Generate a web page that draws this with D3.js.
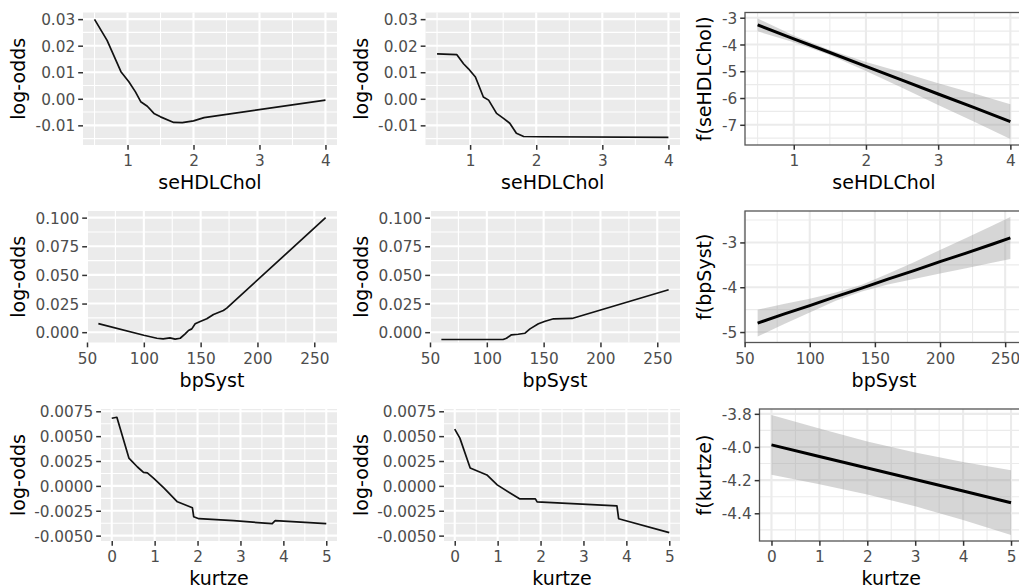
<!DOCTYPE html>
<html>
<head>
<meta charset="utf-8">
<script src="https://cdn.jsdelivr.net/npm/d3@7"></script>
<style>
  html, body { margin: 0; padding: 0; background: #ffffff; }
  svg { display: block; font-family: "DejaVu Sans", sans-serif; }
</style>
</head>
<body>
<svg id="chart" width="1019" height="588"></svg>
<script>
// ---------------- DATA ----------------
// Row 1: seHDLChol
const hdlTicks = [1, 2, 3, 4];
const hdlLogOddsTicks = [-0.01, 0.00, 0.01, 0.02, 0.03];
const hdlLogOddsLim = [-0.0174, 0.0325];
const hdlPdpAx = [0.5, 0.69, 0.9, 1.02, 1.12, 1.2, 1.3, 1.4, 1.5, 1.7, 1.83, 2.0, 2.16, 4.0];
const hdlPdpAy = [0.0299, 0.022, 0.0102, 0.0064, 0.0026, -0.0011, -0.0028, -0.0055, -0.0068, -0.0089, -0.009, -0.0083, -0.0071, -0.0005];
const hdlPdpBx = [0.5, 0.8, 0.9, 0.975, 1.08, 1.13, 1.2, 1.28, 1.4, 1.5, 1.6, 1.7, 1.81, 2.06, 4.0];
const hdlPdpBy = [0.0169, 0.0166, 0.0132, 0.0113, 0.0082, 0.0051, 0.0007, -0.0005, -0.0055, -0.0073, -0.0092, -0.013, -0.0142, -0.0143, -0.0145];
const hdlGamX = [0.5, 1, 1.5, 2, 2.5, 3, 3.5, 4];
const hdlGamFit = [-3.27, -3.79, -4.30, -4.82, -5.33, -5.85, -6.36, -6.88];
const hdlGamLo = [-3.51, -3.92, -4.39, -4.99, -5.62, -6.26, -6.89, -7.53];
const hdlGamHi = [-3.03, -3.66, -4.21, -4.65, -5.04, -5.45, -5.83, -6.23];
const hdlGamTicks = [-7, -6, -5, -4, -3];

// Row 2: bpSyst
const bpTicks = [50, 100, 150, 200, 250];
const bpLogOddsTicks = [0.000, 0.025, 0.050, 0.075, 0.100];
const bpLogOddsLim = [-0.0090, 0.1058];
const bpPdpAx = [60, 100, 111.5, 117, 123, 127.6, 132, 136.4, 139.3, 142.2, 145.2, 149.6, 155.4, 161.3, 170, 173, 260];
const bpPdpAy = [0.0075, -0.0027, -0.0053, -0.0058, -0.005, -0.006, -0.0053, -0.0015, 0.0015, 0.0029, 0.0073, 0.0094, 0.0117, 0.0155, 0.019, 0.021, 0.100];
const bpPdpBx = [60, 114.3, 117.3, 121.7, 127.6, 133.6, 138, 145.4, 151.3, 158.7, 175, 260];
const bpPdpBy = [-0.0064, -0.0064, -0.0053, -0.0023, -0.0018, -0.0009, 0.0029, 0.0073, 0.0096, 0.0117, 0.012, 0.0371];
const bpGamX = [60, 80, 100, 120, 140, 160, 180, 200, 220, 240, 254];
const bpGamFit = [-4.80, -4.60, -4.41, -4.21, -4.02, -3.82, -3.63, -3.43, -3.24, -3.04, -2.90];
const bpGamLo = [-5.10, -4.825, -4.563, -4.301, -4.093, -3.94, -3.818, -3.692, -3.578, -3.454, -3.368];
const bpGamHi = [-4.50, -4.375, -4.257, -4.119, -3.947, -3.70, -3.442, -3.168, -2.902, -2.626, -2.432];
const bpGamTicks = [-5, -4, -3];

// Row 3: kurtze
const kurtTicks = [0, 1, 2, 3, 4, 5];
const kurtLogOddsTicks = [-0.0050, -0.0025, 0.0000, 0.0025, 0.0050, 0.0075];
const kurtLogOddsLim = [-0.00554, 0.00773];
const kurtPdpAx = [0, 0.12, 0.4, 0.6, 0.74, 0.83, 0.98, 1.22, 1.53, 1.88, 1.91, 2.03, 2.84, 3.74, 3.81, 5];
const kurtPdpAy = [0.0068, 0.0069, 0.0028, 0.0019, 0.00136, 0.0013, 0.00076, -0.00023, -0.0016, -0.0022, -0.0031, -0.0033, -0.0035, -0.0038, -0.0035, -0.0038];
const kurtPdpBx = [0, 0.12, 0.36, 0.75, 0.99, 1.51, 1.88, 1.92, 3.78, 3.82, 5];
const kurtPdpBy = [0.0057, 0.0048, 0.0018, 0.0011, 0.0001, -0.0013, -0.0013, -0.0016, -0.002, -0.0033, -0.0047];
const kurtGamX = [0, 1, 2, 3, 4, 5];
const kurtGamFit = [-3.987, -4.057, -4.127, -4.196, -4.266, -4.336];
const kurtGamLo = [-4.167, -4.225, -4.287, -4.358, -4.441, -4.531];
const kurtGamHi = [-3.807, -3.889, -3.967, -4.034, -4.091, -4.141];
const kurtGamTicks = [-4.4, -4.2, -4.0, -3.8];

// ---------------- RENDER ----------------
const loc = d3.formatLocale({decimal: ".", thousands: ",", grouping: [3], currency: ["", ""], minus: "-"});
const fmt = s => loc.format(s);

const expand = (ext) => { const r = ext[1] - ext[0]; return [ext[0] - 0.05 * r, ext[1] + 0.05 * r]; };

const rows = [
  {y0: 12.5, y1: 145, xTitle: "seHDLChol", xTicks: hdlTicks, xFmt: fmt("d"),
   pdp: [[hdlPdpAx, hdlPdpAy], [hdlPdpBx, hdlPdpBy]], pdpTicks: hdlLogOddsTicks, pdpLim: hdlLogOddsLim, pdpFmt: fmt(".2f"),
   gam: {x: hdlGamX, fit: hdlGamFit, lo: hdlGamLo, hi: hdlGamHi, ticks: hdlGamTicks, fmt: fmt(".0f"), title: "f(seHDLChol)"},
   x0: [83, 425.5, 745]},
  {y0: 211, y1: 342.5, xTitle: "bpSyst", xTicks: bpTicks, xFmt: fmt("d"),
   pdp: [[bpPdpAx, bpPdpAy], [bpPdpBx, bpPdpBy]], pdpTicks: bpLogOddsTicks, pdpLim: bpLogOddsLim, pdpFmt: fmt(".3f"),
   gam: {x: bpGamX, fit: bpGamFit, lo: bpGamLo, hi: bpGamHi, ticks: bpGamTicks, fmt: fmt(".0f"), title: "f(bpSyst)"},
   x0: [87, 430, 745]},
  {y0: 409, y1: 541, xTitle: "kurtze", xTicks: kurtTicks, xFmt: fmt("d"),
   pdp: [[kurtPdpAx, kurtPdpAy], [kurtPdpBx, kurtPdpBy]], pdpTicks: kurtLogOddsTicks, pdpLim: kurtLogOddsLim, pdpFmt: fmt(".4f"),
   gam: {x: kurtGamX, fit: kurtGamFit, lo: kurtGamLo, hi: kurtGamHi, ticks: kurtGamTicks, fmt: fmt(".1f"), title: "f(kurtze)"},
   x0: [101, 444, 759.5]}
];
const colRight = [337, 680, 1023];
const yTitleCenter = [20, 362.5, 705.5];

const svg = d3.select("#chart");

function minorBreaks(ticks, dom) {
  const step = ticks[1] - ticks[0];
  const out = [];
  for (let i = -1; i < ticks.length; i++) {
    const m = ticks[0] + (i + 0.5) * step;
    if (m > Math.min(dom[0], dom[1]) && m < Math.max(dom[0], dom[1])) out.push(m);
  }
  return out;
}

function drawPanel(opt) {
  const g = svg.append("g");
  const {x, y, xTicks, yTicks, xFmt, yFmt, bw} = opt;
  const [L, R] = x.range();
  const [B, T] = y.range();
  // background
  g.append("rect").attr("x", L).attr("y", T).attr("width", R - L).attr("height", B - T)
    .attr("fill", bw ? "#ffffff" : "#EBEBEB");
  const gridCol = bw ? "#EBEBEB" : "#ffffff";
  const xMinor = minorBreaks(xTicks, x.domain());
  const yMinor = minorBreaks(yTicks, y.domain());
  g.selectAll(null).data(xMinor).enter().append("line")
    .attr("x1", d => x(d)).attr("x2", d => x(d)).attr("y1", T).attr("y2", B)
    .attr("stroke", gridCol).attr("stroke-width", 1.1);
  g.selectAll(null).data(yMinor).enter().append("line")
    .attr("y1", d => y(d)).attr("y2", d => y(d)).attr("x1", L).attr("x2", R)
    .attr("stroke", gridCol).attr("stroke-width", 1.1);
  g.selectAll(null).data(xTicks).enter().append("line")
    .attr("x1", d => x(d)).attr("x2", d => x(d)).attr("y1", T).attr("y2", B)
    .attr("stroke", gridCol).attr("stroke-width", 2.1);
  g.selectAll(null).data(yTicks).enter().append("line")
    .attr("y1", d => y(d)).attr("y2", d => y(d)).attr("x1", L).attr("x2", R)
    .attr("stroke", gridCol).attr("stroke-width", 2.1);
  opt.draw(g);
  if (bw) {
    g.append("rect").attr("x", L).attr("y", T).attr("width", R - L).attr("height", B - T)
      .attr("fill", "none").attr("stroke", "#555555").attr("stroke-width", 1.3);
  }
  // axes
  const ax = g.append("g").attr("transform", `translate(0,${B})`)
    .call(d3.axisBottom(x).tickValues(xTicks).tickFormat(xFmt).tickSize(4.8).tickPadding(4));
  const ay = g.append("g").attr("transform", `translate(${L},0)`)
    .call(d3.axisLeft(y).tickValues(yTicks).tickFormat(yFmt).tickSize(4.8).tickPadding(3));
  [ax, ay].forEach(a => {
    a.select(".domain").remove();
    a.selectAll(".tick line").attr("stroke", "#333333").attr("stroke-width", 1.5);
    a.selectAll(".tick text").attr("fill", "#4D4D4D").attr("font-size", "15.3px")
      .attr("font-family", "DejaVu Sans");
  });
  ax.selectAll(".tick text").attr("dy", null).attr("y", 21).attr("dominant-baseline", "alphabetic");
  ay.selectAll(".tick text").attr("dy", "0.36em");
  // titles
  svg.append("text").attr("x", (L + R) / 2).attr("y", B + 44).attr("text-anchor", "middle")
    .attr("font-size", "19px").attr("fill", "#000").text(opt.xTitle);
  svg.append("text").attr("transform", `translate(${opt.yTitleX + 5},${(T + B) / 2}) rotate(-90)`)
    .attr("text-anchor", "middle").attr("font-size", "19px").attr("fill", "#000").text(opt.yTitle);
}

rows.forEach(row => {
  // two PDP panels
  row.pdp.forEach((series, ci) => {
    const xs = series[0], ys = series[1];
    const x = d3.scaleLinear().domain(expand(d3.extent(xs))).range([row.x0[ci], colRight[ci]]);
    const y = d3.scaleLinear().domain(row.pdpLim).range([row.y1, row.y0]);
    drawPanel({x, y, xTicks: row.xTicks, yTicks: row.pdpTicks, xFmt: row.xFmt, yFmt: row.pdpFmt,
      bw: false, xTitle: row.xTitle, yTitle: "log-odds", yTitleX: yTitleCenter[ci],
      draw: g => {
        const pts = xs.map((v, i) => [v, ys[i]]);
        g.append("path").datum(pts)
          .attr("d", d3.line().x(d => x(d[0])).y(d => y(d[1])))
          .attr("fill", "none").attr("stroke", "#111111").attr("stroke-width", 1.7)
          .attr("stroke-linejoin", "round");
      }});
  });
  // GAM panel
  const gm = row.gam;
  const x = d3.scaleLinear().domain(expand(d3.extent(gm.x))).range([row.x0[2], colRight[2]]);
  const y = d3.scaleLinear().domain(expand([d3.min(gm.lo), d3.max(gm.hi)])).range([row.y1, row.y0]);
  drawPanel({x, y, xTicks: row.xTicks, yTicks: gm.ticks, xFmt: row.xFmt, yFmt: gm.fmt,
    bw: true, xTitle: row.xTitle, yTitle: gm.title, yTitleX: yTitleCenter[2],
    draw: g => {
      const pts = gm.x.map((v, i) => ({x: v, f: gm.fit[i], lo: gm.lo[i], hi: gm.hi[i]}));
      g.append("path").datum(pts)
        .attr("d", d3.area().x(d => x(d.x)).y0(d => y(d.lo)).y1(d => y(d.hi)))
        .attr("fill", "#999999").attr("fill-opacity", 0.4);
      g.append("path").datum(pts)
        .attr("d", d3.line().x(d => x(d.x)).y(d => y(d.f)))
        .attr("fill", "none").attr("stroke", "#000000").attr("stroke-width", 3);
    }});
});
</script>
</body>
</html>
